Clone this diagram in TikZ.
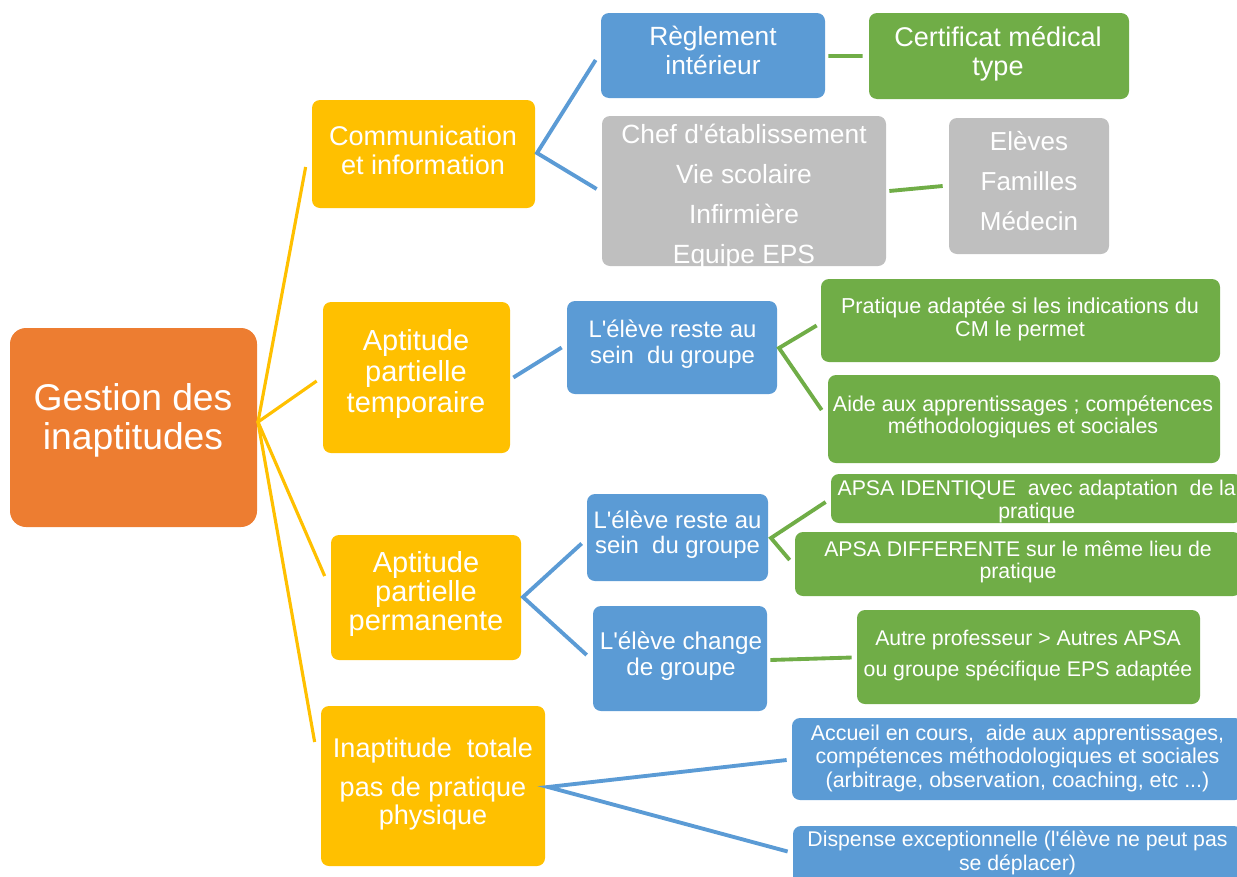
\documentclass[tikz,border=0pt]{standalone}
\usepackage{fontspec}
\setmainfont{Liberation Sans}
\newdimen\pxu \pxu=0.02cm
\newcommand\fs[2]{\fontsize{#1pt}{#2pt}\selectfont}
\newcommand\ap{\textquotesingle}
\definecolor{cOr}{HTML}{ED7D31}
\definecolor{cYe}{HTML}{FFC000}
\definecolor{cBl}{HTML}{5B9BD5}
\definecolor{cGr}{HTML}{70AD47}
\definecolor{cGy}{HTML}{BFBFBF}
\begin{document}
\begin{tikzpicture}[x=0.02cm,y=-0.02cm,
  box/.style={rounded corners=8\pxu, inner sep=0pt, draw=none},
  txt/.style={text=white, align=center, inner sep=0pt},
  cn/.style={line width=2.2pt, line join=miter},
  cny/.style={line width=1.8pt, line join=miter, draw=cYe},
]
\useasboundingbox (0,0) rectangle (1237,876);
\clip (0,0) rectangle (1237,876);

% ---------- boxes ----------
\node[box, fill=cOr, rounded corners=16\pxu, minimum width=247\pxu, minimum height=199\pxu] (root) at (133.5,427.5) {};
\node[box, fill=cYe, minimum width=223\pxu, minimum height=108\pxu] (comm) at (423.5,154) {};
\node[box, fill=cYe, minimum width=187\pxu, minimum height=151\pxu] (atemp) at (416.5,377.5) {};
\node[box, fill=cYe, minimum width=190\pxu, minimum height=125\pxu] (aperm) at (426,597.5) {};
\node[box, fill=cYe, minimum width=224\pxu, minimum height=160\pxu] (inapt) at (433,786) {};
\node[box, fill=cBl, minimum width=224\pxu, minimum height=85\pxu] (regl) at (713,55.5) {};
\node[box, fill=cGy, minimum width=284\pxu, minimum height=150\pxu] (chef) at (744,191) {};
\node[box, fill=cGr, minimum width=260\pxu, minimum height=86\pxu] (cert) at (999,56) {};
\node[box, fill=cGy, minimum width=160\pxu, minimum height=136\pxu] (eleves) at (1029,186) {};
\node[box, fill=cBl, minimum width=210\pxu, minimum height=93\pxu] (reste1) at (672,347.5) {};
\node[box, fill=cGr, minimum width=399\pxu, minimum height=83\pxu] (prat) at (1020.5,320.5) {};
\node[box, fill=cGr, minimum width=392\pxu, minimum height=88\pxu] (aide) at (1024,419) {};
\node[box, fill=cBl, minimum width=181\pxu, minimum height=87\pxu] (reste2) at (677.5,537.5) {};
\node[box, fill=cBl, minimum width=174\pxu, minimum height=105\pxu] (change) at (680,658.5) {};
\node[box, fill=cGr, minimum width=411\pxu, minimum height=49\pxu] (apsaid) at (1036.5,498.5) {};
\node[box, fill=cGr, minimum width=446\pxu, minimum height=64\pxu] (apsadiff) at (1018,564) {};
\node[box, fill=cGr, minimum width=343\pxu, minimum height=94\pxu] (autre) at (1028.5,657) {};
\node[box, fill=cBl, minimum width=451\pxu, minimum height=82\pxu] (accueil) at (1017.5,759) {};
\node[box, fill=cBl, minimum width=449\pxu, minimum height=60\pxu] (dispense) at (1017.5,856) {};

% ---------- texts ----------
\node[txt, font=\fs{21.2}{22.2}] (root-t) at (133,420) {Gestion des\\inaptitudes};
\node[txt, font=\fs{15.4}{16.4}] (comm-t) at (423,150) {Communication\\et information};
\node[txt, font=\fs{16.5}{17.9}] (atemp-t) at (416,374) {Aptitude\\partielle\\temporaire};
\node[txt, font=\fs{16.5}{16.6}] (aperm-t) at (426,594) {Aptitude\\partielle\\permanente};
\node[txt, font=\fs{15.4}{15.9}] (inapt-t) at (433,784) {Inaptitude\ \ totale\\[6.8pt]pas de pratique\\physique};
\node[txt, font=\fs{15.0}{16.6}] (regl-t) at (713,50.5) {Règlement\\intérieur};
\node[txt, font=\fs{15.4}{16.4}] (cert-t) at (998,53.5) {Certificat médical\\type};
\begin{scope}
  \clip[rounded corners=8\pxu] (chef.south west) rectangle (chef.north east);
  \node[txt, font=\fs{15.0}{22.8}] (chef-t) at (744,196.5) {Chef d\ap établissement\\Vie scolaire\\Infirmière\\Equipe EPS};
\end{scope}
\node[txt, font=\fs{14.8}{22.8}] (eleves-t) at (1029,181) {Elèves\\Familles\\Médecin};
\node[txt, font=\fs{13.6}{14.8}] (reste1-t) at (672.5,344.5) {L\ap élève reste au\\sein\ \ du groupe};
\node[txt, font=\fs{12.3}{13.3}] (prat-t) at (1020,319.5) {Pratique adaptée si les indications du\\CM le permet};
\node[txt, font=\fs{12.2}{12.5}] (aide-t) at (1023,417) {Aide aux apprentissages ; compétences\\méthodologiques et sociales};
\node[txt, font=\fs{13.6}{14.4}] (reste2-t) at (677.5,535) {L\ap élève reste au\\sein\ \ du groupe};
\node[txt, font=\fs{13.8}{14.6}] (change-t) at (681,656) {L\ap élève change\\de groupe};
\node[txt, font=\fs{12.1}{12.9}] (apsaid-t) at (1036.7,501.5) {APSA IDENTIQUE\ \ avec adaptation\ \ de la\\pratique};
\node[txt, font=\fs{12.1}{12.8}] (apsadiff-t) at (1018,562) {APSA DIFFERENTE sur le même lieu de\\pratique};
\node[txt, font=\fs{12.1}{17.9}] (autre-t) at (1028,655.5) {Autre professeur > Autres APSA\\ou groupe spécifique EPS adaptée};
\node[txt, font=\fs{12.2}{13.4}] (accueil-t) at (1017.5,758) {Accueil en cours,\ \ aide aux apprentissages,\\compétences méthodologiques et sociales\\(arbitrage, observation, coaching, etc ...)};
\node[txt, font=\fs{12.1}{13.3}] (dispense-t) at (1017.5,852.7) {Dispense exceptionnelle (l\ap élève ne peut pas\\se déplacer)};

% ---------- connectors ----------
\coordinate (f0) at (258,422);
\coordinate (f1) at (537,153);
\coordinate (f2) at (779,348);
\coordinate (f3) at (523,597);
\coordinate (f4) at (771,538);
\coordinate (f5) at (548,787);

\draw[cny] ([shift={(-6,13)}]comm.west) -- (f0) -- ([shift={(-6,-44)}]inapt.west);
\draw[cny] ([shift={(-6,3.5)}]atemp.west) -- (f0) -- ([shift={(-6,-21.5)}]aperm.west);

\draw[cn, cBl] ([shift={(-5,4.5)}]regl.west) -- (f1) -- ([shift={(-5,-2)}]chef.west);
\draw[cn, cGr] ([shift={(3,0.5)}]regl.east) -- ([shift={(-6,0)}]cert.west);
\draw[cn, cGr] ([shift={(3,0)}]chef.east) -- ([shift={(-6,0)}]eleves.west);

\draw[cn, cBl] ([shift={(3,0)}]atemp.east) -- ([shift={(-5,0)}]reste1.west);
\draw[cn, cGr] ([shift={(-4,5)}]prat.west) -- (f2) -- ([shift={(-6,-9)}]aide.west);

\draw[cn, cBl] ([shift={(-5,6)}]reste2.west) -- (f3) -- ([shift={(-6,-3.5)}]change.west);
\draw[cn, cGr] ([shift={(-5,3.5)}]apsaid.west) -- (f4) -- ([shift={(-5,-4)}]apsadiff.west);
\draw[cn, cGr] ([shift={(3,1.5)}]change.east) -- ([shift={(-5,0.5)}]autre.west);

\draw[cn, cBl] ([shift={(-5,1)}]accueil.west) -- (f5) -- ([shift={(-5,-4.5)}]dispense.west);
\end{tikzpicture}
\end{document}
